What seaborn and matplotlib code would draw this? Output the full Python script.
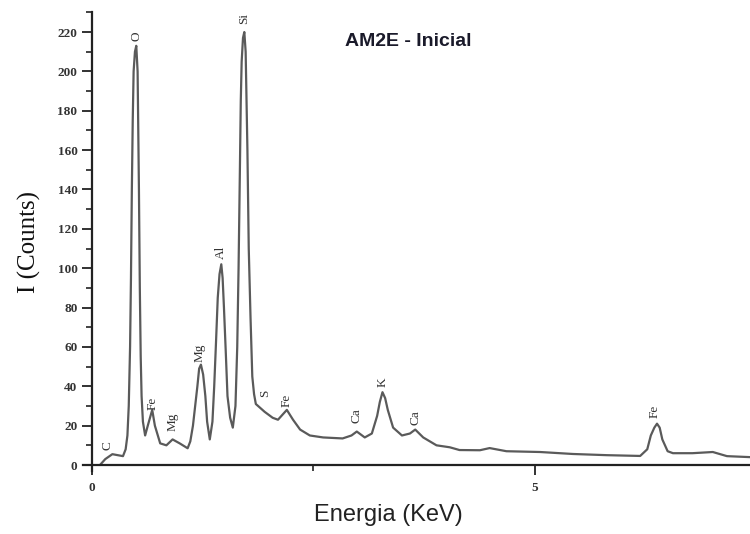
import numpy as np
import pandas as pd
import matplotlib
matplotlib.use("Agg")
import matplotlib.pyplot as plt
import seaborn as sns
from matplotlib.ticker import MultipleLocator, FixedLocator

# Spectrum (energy in keV, intensity in counts)
energy = [0.09, 0.15, 0.23, 0.29, 0.35, 0.38, 0.40, 0.415, 0.43, 0.44, 0.45, 0.46,
          0.47, 0.485, 0.50, 0.515, 0.52, 0.53, 0.54, 0.55, 0.56, 0.575, 0.60, 0.63,
          0.68, 0.71, 0.77, 0.84, 0.91, 0.99, 1.08, 1.11, 1.14, 1.165, 1.19, 1.21,
          1.23, 1.255, 1.28, 1.30, 1.33, 1.36, 1.38, 1.40, 1.42, 1.44, 1.46, 1.475,
          1.49, 1.51, 1.53, 1.56, 1.59, 1.62, 1.64, 1.655, 1.67, 1.68, 1.69, 1.705,
          1.72, 1.735, 1.745, 1.755, 1.77, 1.79, 1.81, 1.83, 1.85, 1.90, 1.95, 2.04,
          2.10, 2.16, 2.20, 2.27, 2.35, 2.46, 2.61, 2.83, 2.93, 2.99, 3.08, 3.16,
          3.22, 3.25, 3.28, 3.31, 3.34, 3.40, 3.50, 3.59, 3.65, 3.74, 3.89, 4.04,
          4.15, 4.38, 4.49, 4.68, 5.06, 5.43, 5.81, 6.19, 6.27, 6.31, 6.35, 6.38,
          6.41, 6.44, 6.50, 6.56, 6.78, 7.01, 7.17, 7.43]
counts = [0, 3, 5.5, 5, 4.5, 8, 15, 30, 60, 95, 140, 175,
          200, 210, 213, 200, 180, 140, 90, 55, 35, 22, 15, 20,
          28, 20, 11, 10, 13, 11, 8.5, 12, 20, 30, 40, 49,
          51, 46, 35, 22, 13, 22, 40, 62, 85, 97, 102, 95,
          80, 58, 35, 24, 19, 30, 60, 100, 150, 185, 205, 217,
          220, 210, 185, 160, 110, 75, 45, 36, 31, 29, 27, 24,
          23, 26, 28, 23, 18, 15, 14, 13.5, 15, 17, 14, 16,
          25, 32, 37, 34, 28, 19, 15, 16, 18, 14, 10, 9,
          7.6, 7.5, 8.6, 7, 6.6, 5.6, 5, 4.6, 8, 15, 19, 21,
          19, 13, 7, 6, 6, 6.6, 4.5, 4]

# Peak labels
peak_names = ["C", "O", "Fe", "Mg", "Mg", "Al", "Si", "S", "Fe", "Ca", "K", "Ca", "Fe"]
peak_x = [0.18, 0.50, 0.69, 0.91, 1.22, 1.46, 1.72, 1.96, 2.20, 2.99, 3.28, 3.65, 6.35]
peak_y = [10, 218, 31.5, 22, 57, 108, 227, 36.6, 33, 25, 42, 24, 27]

df = pd.DataFrame({"Energia": energy, "Counts": counts})

sns.set_theme(style="white")
plt.rcParams["font.family"] = ["DejaVu Sans"]

x_per_px = 1 / 88.6
y_per_px = 1 / 1.968
x0, x1 = -0.1, 7.43
y0, y1 = -3, 230
left_px = 92 + x0 / x_per_px
bottom_px = 465 - y0 / y_per_px
top_px = 465 - y1 / y_per_px

fig = plt.figure(figsize=(7.5, 5.34), dpi=100)
ax = fig.add_axes([left_px / 750, (534 - bottom_px) / 534,
                   (750 - left_px) / 750, (bottom_px - top_px) / 534])

sns.lineplot(data=df, x="Energia", y="Counts", ax=ax, color="#5a5a5a",
             linewidth=1.6, sort=False)

ax.set_xlim(x0, x1)
ax.set_ylim(y0, y1)
ax.spines["top"].set_visible(False)
ax.spines["right"].set_visible(False)
ax.spines["left"].set_position(("data", 0))
ax.spines["bottom"].set_position(("data", 0))
for s in ["left", "bottom"]:
    ax.spines[s].set_color("#222222")
    ax.spines[s].set_linewidth(1.6)

ax.yaxis.set_major_locator(MultipleLocator(20))
ax.yaxis.set_minor_locator(MultipleLocator(10))
ax.xaxis.set_major_locator(FixedLocator([0, 5]))
ax.xaxis.set_minor_locator(FixedLocator([2.5]))
ax.tick_params(axis="both", which="major", direction="out", length=7, width=1.3,
               color="#222222", left=True, bottom=True)
ax.tick_params(axis="both", which="minor", direction="out", length=4, width=1.2,
               color="#222222", left=True, bottom=True)
ax.tick_params(axis="x", which="major", pad=5)
for lab in ax.get_yticklabels() + ax.get_xticklabels():
    lab.set_family(["Liberation Serif"])
    lab.set_fontsize(9.5)
    lab.set_color("#333333")
    lab.set_fontweight("bold")

ax.set_xlabel("")
ax.set_ylabel("I (Counts)", family=["Liberation Serif"], fontsize=18,
              color="#111111", labelpad=12)

for name, px, py in zip(peak_names, peak_x, peak_y):
    ax.text(px, py, name, rotation=90, ha="center", va="center",
            family=["Liberation Serif"], fontsize=9.5, color="#333333")

fig.text(388 / 750, 1 - 515 / 534, "Energia (KeV)", ha="center", va="center",
         family=["Liberation Sans"], fontsize=17, color="#222222")
fig.text(408 / 750, 1 - 42 / 534, "AM2E - Inicial", ha="center", va="center",
         family=["Liberation Sans"], fontsize=14, fontweight="bold",
         color="#1a1a2a")

fig.savefig("out.png", dpi=100, facecolor="white")
